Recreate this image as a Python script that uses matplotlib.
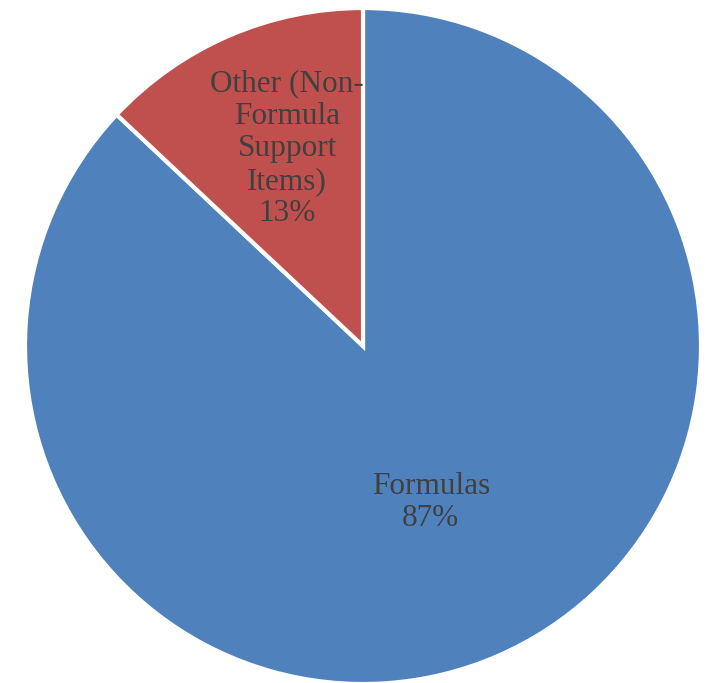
import numpy as np
import matplotlib.pyplot as plt

labels = ['Formulas', 'Other (Non-\nFormula\nSupport\nItems)']
shares = [87, 13]
colors = ['#4F81BD', '#C0504D']

fig = plt.figure(figsize=(7.12, 6.83), dpi=100)
ax = fig.add_axes([0, 0, 1, 1])

wedges, _ = ax.pie(shares, colors=colors, startangle=90, counterclock=False,
                   radius=1, wedgeprops=dict(edgecolor='white', linewidth=3))

# label placement: fraction of radius, and angle nudge in degrees
dist = [0.505, 0.625]
nudge = [0, -2.4]
for w, lab, v, d, a in zip(wedges, labels, shares, dist, nudge):
    mid = np.deg2rad((w.theta1 + w.theta2) / 2 + a)
    ax.text(d * np.cos(mid), d * np.sin(mid), f'{lab}\n{v}%', ha='center', va='center',
            fontsize=22.5, family='Liberation Serif', color='#404040', linespacing=1.16)

ax.set_xlim(-1.074, 1.0325)
ax.set_ylim(-0.997, 1.0237)
ax.set_aspect('auto')
ax.axis('off')

plt.savefig('out.png', dpi=100)
